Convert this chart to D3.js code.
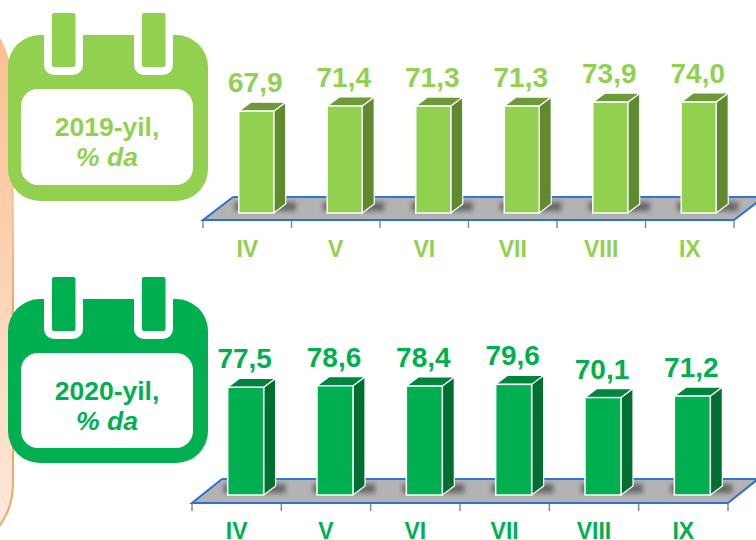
<!DOCTYPE html>
<html>
<head>
    <title>2019-2020</title>
    <style>
        html, body { margin: 0; padding: 0; background: white; }
        svg { display: block; font-family: 'Liberation Sans', Arial, sans-serif; font-weight: bold; }
    </style>
</head>
<body>
    <div id="chart"></div>
    <script src="https://cdnjs.cloudflare.com/ajax/libs/d3/7.6.1/d3.min.js"></script>
    <script>
        const months = ["IV", "V", "VI", "VII", "VIII", "IX"];
        const values2019 = [67.9, 71.4, 71.3, 71.3, 73.9, 74.0];
        const values2020 = [77.5, 78.6, 78.4, 79.6, 70.1, 71.2];
        const title2019 = "2019-yil,";
        const title2020 = "2020-yil,";
        const subtitle = "% da";

        const svg = d3.select("#chart").append("svg")
            .attr("width", 756)
            .attr("height", 540);

        const defs = svg.append("defs");

        const panelGrad = defs.append("linearGradient")
            .attr("id", "panel-grad")
            .attr("x1", 0).attr("x2", 0).attr("y1", 0).attr("y2", 1);
        panelGrad.append("stop").attr("offset", "0%").attr("stop-color", "#fbbd8c");
        panelGrad.append("stop").attr("offset", "100%").attr("stop-color", "#fee9da");

        const edgeGrad = defs.append("linearGradient")
            .attr("id", "edge-grad")
            .attr("gradientUnits", "userSpaceOnUse")
            .attr("x1", 0).attr("x2", 0).attr("y1", 120).attr("y2", 300);
        edgeGrad.append("stop").attr("offset", "0%").attr("stop-color", "#eeaa74").attr("stop-opacity", 0);
        edgeGrad.append("stop").attr("offset", "100%").attr("stop-color", "#eda870");

        defs.append("filter")
            .attr("id", "blur")
            .attr("x", "-40%").attr("y", "-100%").attr("width", "180%").attr("height", "300%")
            .append("feGaussianBlur").attr("stdDeviation", 2.6);

        // peach panel on the left, mostly off the page
        const panelEdge = "C13,504 7,516 -3,529";
        svg.append("path")
            .attr("d", `M-30,12 C-8,18 13,48 13,90 L13,480 ${panelEdge} L-30,529 Z`)
            .attr("fill", "url(#panel-grad)");
        svg.append("path")
            .attr("d", `M13,120 L13,480 ${panelEdge}`)
            .attr("fill", "none")
            .attr("stroke", "url(#edge-grad)")
            .attr("stroke-width", 2);

        drawCalendar({ top: 13, color: "#92d050", title: title2019 });
        drawCalendar({ top: 277, color: "#00b050", title: title2020 });

        drawBars({
            values: values2019,
            color: "#92d050", side: "#5f8a30", lid: "#6f9a39",
            left: 203, right: 734, front: 220, back: 197, base: 213, scale: 1.5,
            barWidth: 35, labelY: 257
        });
        drawBars({
            values: values2020,
            color: "#00b050", side: "#006f2f", lid: "#00853c",
            left: 192, right: 728, front: 503, back: 479, base: 495, scale: 1.39,
            barWidth: 36, labelY: 538.5
        });

        function drawCalendar({ top, color, title }) {
            const g = svg.append("g").attr("transform", `translate(0,${top})`);
            const inner = top === 13 ? { y: 76, h: 96 } : { y: 76, h: 95 };
            const bodyH = top === 13 ? 166 : 164;

            g.append("rect")
                .attr("x", 8).attr("y", 22)
                .attr("width", 200).attr("height", bodyH)
                .attr("rx", 32)
                .attr("fill", color);

            [44, 134].forEach(x => {
                // white notch, then the ring inside it
                g.append("path")
                    .attr("d", `M${x},20 V52 a10,10 0 0 0 10,10 H${x + 29} a10,10 0 0 0 10,-10 V20 Z`)
                    .attr("fill", "white");
                g.append("rect")
                    .attr("x", x + 8).attr("y", 0)
                    .attr("width", 23.5).attr("height", 54)
                    .attr("rx", 2)
                    .attr("fill", color);
            });

            g.append("rect")
                .attr("x", 21).attr("y", inner.y)
                .attr("width", 172).attr("height", inner.h)
                .attr("rx", 17)
                .attr("fill", "white");

            g.append("text")
                .attr("x", 107).attr("y", inner.y + 47)
                .attr("text-anchor", "middle")
                .attr("font-size", 26.5)
                .attr("fill", color)
                .text(title);
            g.append("text")
                .attr("x", 107).attr("y", inner.y + 77)
                .attr("text-anchor", "middle")
                .attr("font-size", 26.5)
                .attr("font-style", "italic")
                .attr("fill", color)
                .text(subtitle);
        }

        function drawBars({ values, color, side, lid, left, right, front, back, base, scale, barWidth, labelY }) {
            const depthX = 12;
            const depthY = 9;
            const floorSkew = 30;

            const x = d3.scaleBand().domain(months).range([left, right]);
            const y = d3.scaleLinear().domain([0, 100]).range([base, base - 100 * scale]);
            const barLeft = m => x(m) + x.step() / 2 + 9 - barWidth / 2;

            const g = svg.append("g");

            g.append("path")
                .attr("d", `M${left},${front} L${left + floorSkew},${back} H${right + floorSkew} L${right},${front} Z`)
                .attr("fill", "#b3b3b3");
            g.append("path")
                .attr("d", `M${left + floorSkew},${back} H${right + floorSkew}`)
                .attr("stroke", "#2f75e0").attr("stroke-width", 2);
            g.append("path")
                .attr("d", `M${left + floorSkew},${back} L${left},${front} H${right} L${right + floorSkew},${back}`)
                .attr("fill", "none")
                .attr("stroke", "#2f6fd8").attr("stroke-width", 2);

            // ticks sit on the band edges, labels come from the axis
            g.selectAll(".tick-mark")
                .data(d3.range(months.length + 1))
                .join("line")
                .attr("class", "tick-mark")
                .attr("x1", i => left + i * x.step())
                .attr("x2", i => left + i * x.step())
                .attr("y1", front + 1)
                .attr("y2", front + 8)
                .attr("stroke", "#8c8c8c")
                .attr("stroke-width", 1.5);

            const axis = g.append("g")
                .attr("transform", `translate(0,${labelY})`)
                .call(d3.axisBottom(x).tickSize(0).tickPadding(0));
            axis.select(".domain").remove();
            axis.selectAll("text")
                .attr("y", 0).attr("dy", 0)
                .attr("font-size", 23)
                .attr("font-family", "'Liberation Sans', Arial, sans-serif")
                .attr("font-weight", "bold")
                .attr("fill", color);

            // soft shadow on the floor, behind each bar only
            g.selectAll(".shadow")
                .data(months)
                .join("rect")
                .attr("class", "shadow")
                .attr("x", m => barLeft(m) - 4)
                .attr("y", base - 11)
                .attr("width", barWidth + depthX + 14)
                .attr("height", 9)
                .attr("fill", "#555555")
                .attr("opacity", 0.8)
                .attr("filter", "url(#blur)");

            const bars = g.selectAll(".bar")
                .data(months.map((m, i) => ({ m, v: values[i] })))
                .join("g")
                .attr("class", "bar");

            bars.append("path")
                .attr("d", d => {
                    const x0 = barLeft(d.m), x1 = x0 + barWidth;
                    return `M${x1},${y(d.v)} l${depthX},${-depthY} V${base - depthY} L${x1},${base} Z`;
                })
                .attr("fill", side)
                .attr("stroke", "white").attr("stroke-width", 1.2).attr("stroke-linejoin", "round");

            bars.append("path")
                .attr("d", d => {
                    const x0 = barLeft(d.m), x1 = x0 + barWidth;
                    return `M${x0},${y(d.v)} l${depthX},${-depthY} H${x1 + depthX} L${x1},${y(d.v)} Z`;
                })
                .attr("fill", lid)
                .attr("stroke", "white").attr("stroke-width", 1.2).attr("stroke-linejoin", "round");

            bars.append("rect")
                .attr("x", d => barLeft(d.m))
                .attr("y", d => y(d.v))
                .attr("width", barWidth)
                .attr("height", d => base - y(d.v))
                .attr("fill", color)
                .attr("stroke", "white").attr("stroke-width", 1.5);

            bars.append("text")
                .attr("x", d => barLeft(d.m) + barWidth / 2 - 1)
                .attr("y", d => y(d.v) - 19)
                .attr("text-anchor", "middle")
                .attr("font-size", 28)
                .attr("fill", color)
                .text(d => d.v.toFixed(1).replace(".", ","));
        }
    </script>
</body>
</html>
